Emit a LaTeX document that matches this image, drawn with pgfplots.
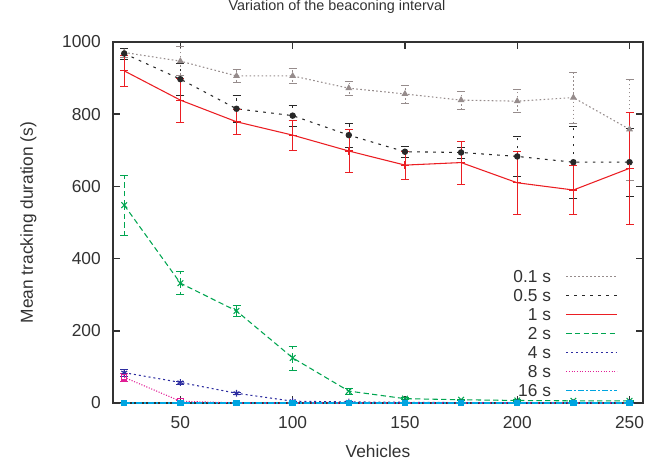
\documentclass[border=0pt]{standalone}
\usepackage{pgfplots}
\pgfplotsset{compat=1.18}
\usepackage{fontspec}
\setmainfont{Liberation Sans}

\definecolor{cA}{RGB}{150,140,140}
\definecolor{cB}{RGB}{40,40,40}
\definecolor{cC}{RGB}{235,30,35}
\definecolor{cD}{RGB}{0,165,80}
\definecolor{cE}{RGB}{45,45,160}
\definecolor{cF}{RGB}{225,30,150}
\definecolor{cG}{RGB}{0,165,225}
\definecolor{txt}{RGB}{50,50,50}

\begin{document}
\begin{tikzpicture}
\useasboundingbox (-84.75pt,-47.25pt) rectangle (415.5pt,302.25pt);
\begin{axis}[
    at={(0pt,0pt)}, anchor=south west,
    scale only axis,
    width=397.5pt, height=270.75pt,
    xmin=20, xmax=256, ymin=0, ymax=1000,
    xtick={50,100,150,200,250},
    ytick={0,200,400,600,800,1000},
    clip=false,
    font=\fontsize{13}{15}\selectfont,
    /pgf/number format/assume math mode=true,
    /pgf/number format/1000 sep={},
    every tick label/.append style={text=txt},
    axis line style={draw=txt, line width=1.3pt},
    every tick/.style={draw=txt, line width=1.1pt},
    major tick length=5pt,
    xticklabel style={anchor=base, yshift=-19.5pt},
    yticklabel style={anchor=east, inner sep=0pt, xshift=-9pt},
    title={Variation of the beaconing interval},
    title style={at={(axis description cs:0.4226,1.0637)}, anchor=base,
        font=\fontsize{10.8}{12}\selectfont, text=txt},
    xlabel={Vehicles},
    xlabel style={at={(axis description cs:0.5,-0.1496)}, anchor=base, text=txt},
    ylabel={Mean tracking duration (s)},
    ylabel style={at={(axis description cs:-0.151,0.5)}, anchor=base, rotate=0, text=txt},
    legend plot pos=right,
    legend cell align=right,
    legend image code/.code={\draw[#1,mark=none,line width=0.9pt] (0pt,0pt) -- (38pt,0pt);},
    legend style={at={(0.96,0.385)}, anchor=north east, draw=none, fill=none,
        text=txt, row sep=0.3pt, column sep=9pt,
        nodes={inner sep=2pt, text height=9.5pt, text depth=0.5pt}},
    error bars/y dir=both,
    error bars/y explicit,
    error bars/error mark options={rotate=90, mark size=3pt, solid},
]
\addplot[cA, line width=0.8pt, dash pattern=on 1.2pt off 1.8pt, mark=triangle*, mark size=2.2pt, mark options={solid}]
coordinates {
 (25,971) +- (0,12) (50,947) +- (0,40) (75,906) +- (0,18) (100,906) +- (0,20)
 (125,872) +- (0,20) (150,856) +- (0,25) (175,839) +- (0,25) (200,836) +- (0,32)
 (225,846) +- (0,70) (250,758) +- (0,140)
};
\addlegendentry{0.1 s}
\addplot[cB, line width=0.8pt, dash pattern=on 2pt off 4pt, mark=*, mark size=2pt, mark options={solid}]
coordinates {
 (25,968) +- (0,15) (50,897) +- (0,45) (75,815) +- (0,38) (100,796) +- (0,30)
 (125,742) +- (0,34) (150,696) +- (0,15) (175,694) +- (0,15) (200,683) +- (0,55)
 (225,667) +- (0,100) (250,667) +- (0,95)
};
\addlegendentry{0.5 s}
\addplot[cC, line width=0.8pt, solid, mark=+, mark size=3pt]
coordinates {
 (25,920) +- (0,44) (50,839) +- (0,61) (75,779) +- (0,35) (100,742) +- (0,42)
 (125,698) +- (0,60) (150,659) +- (0,39) (175,666) +- (0,60) (200,610) +- (0,87)
 (225,590) +- (0,68) (250,650) +- (0,156)
};
\addlegendentry{1 s}
\addplot[cD, line width=0.8pt, dash pattern=on 4pt off 2.5pt, mark=x, mark size=3pt, mark options={solid}]
coordinates {
 (25,548) +- (0,84) (50,332) +- (0,32) (75,255) +- (0,16) (100,125) +- (0,33)
 (125,33) +- (0,8) (150,12) +- (0,3) (175,9) +- (0,2) (200,7) +- (0,2)
 (225,6) +- (0,2) (250,6) +- (0,2)
};
\addlegendentry{2 s}
\addplot[cE, line width=0.8pt, dash pattern=on 1.5pt off 2.2pt, mark=asterisk, mark size=2.5pt, mark options={solid}]
coordinates {
 (25,84) +- (0,10) (50,57) +- (0,4) (75,27) +- (0,3) (100,5) +- (0,1)
 (125,3) +- (0,1) (150,2) +- (0,1) (175,1) +- (0,0) (200,1) +- (0,0)
 (225,1) +- (0,0) (250,1) +- (0,0)
};
\addlegendentry{4 s}
\addplot[cF, line width=0.8pt, dash pattern=on 0.8pt off 1.2pt, mark=square, mark size=2pt, mark options={solid}]
coordinates {
 (25,71) +- (0,12) (50,5) +- (0,3) (75,0) +- (0,0) (100,0) +- (0,0)
 (125,0) +- (0,0) (150,0) +- (0,0) (175,0) +- (0,0) (200,0) +- (0,0)
 (225,0) +- (0,0) (250,0) +- (0,0)
};
\addlegendentry{8 s}
\addplot[cG, line width=0.8pt, dash pattern=on 4pt off 2pt on 1pt off 2pt, mark=square*, mark size=2pt, mark options={solid}]
coordinates {
 (25,0) +- (0,0) (50,0) +- (0,0) (75,0) +- (0,0) (100,0) +- (0,0)
 (125,0) +- (0,0) (150,0) +- (0,0) (175,0) +- (0,0) (200,0) +- (0,0)
 (225,0) +- (0,0) (250,0) +- (0,0)
};
\addlegendentry{16 s}
\end{axis}
\end{tikzpicture}
\end{document}
